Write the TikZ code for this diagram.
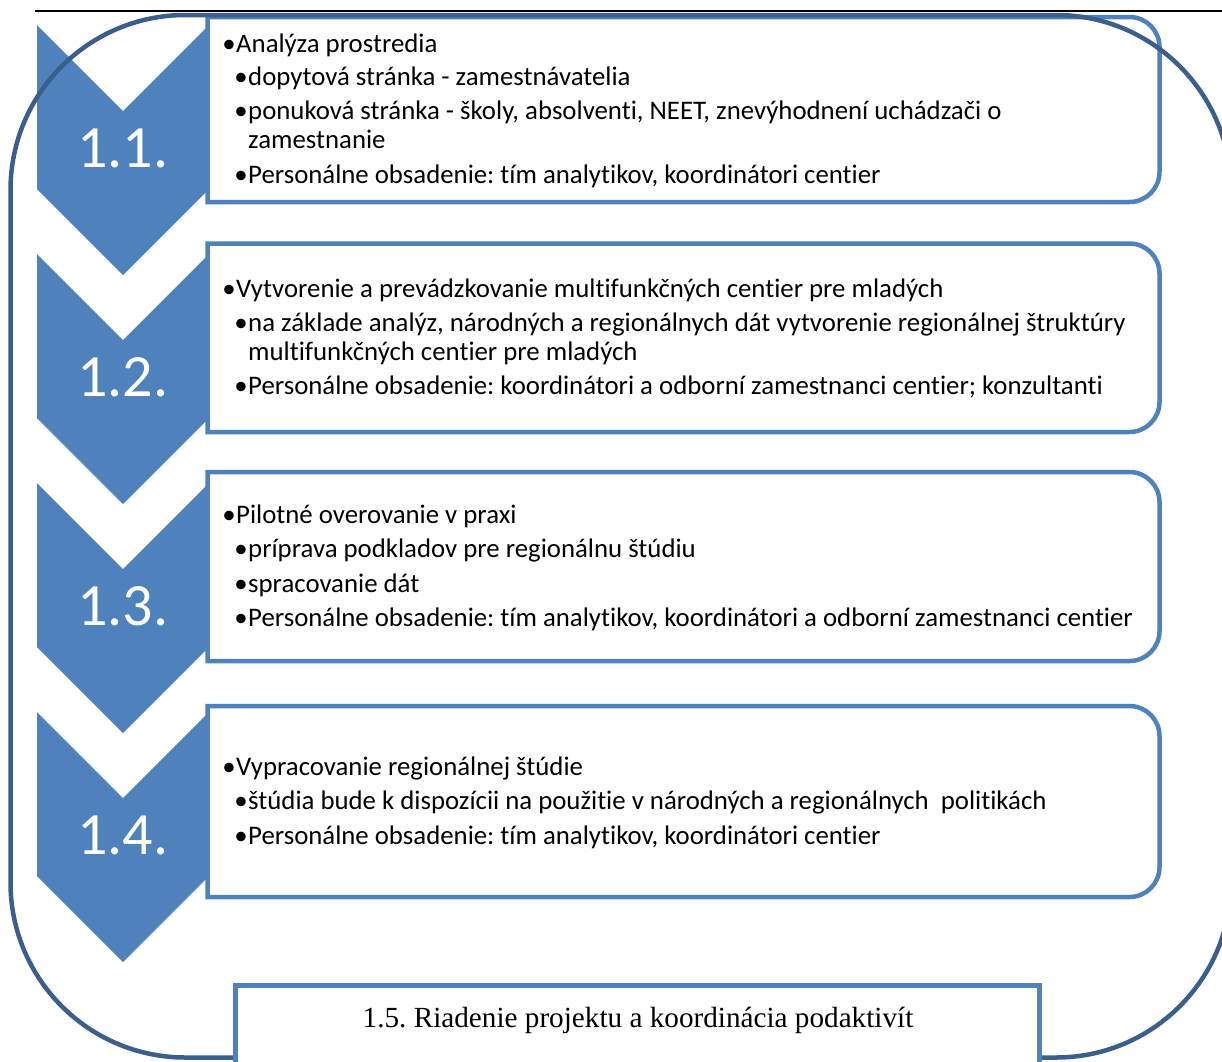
\documentclass[tikz,border=0pt]{standalone}
\usepackage{fontspec}
\setmainfont{Carlito}[Ligatures=NoCommon]
\newfontfamily\serifB{Liberation Serif}
\definecolor{chev}{RGB}{79,129,189}
\definecolor{frameblue}{RGB}{58,95,140}
\frenchspacing
\tikzset{
  chevshape/.style={fill=chev, draw=none},
  stepbox/.style={draw=chev, line width=4.5pt, fill=white},
  txt/.style={anchor=base west, inner sep=0pt, font=\fontsize{26.8}{30}\selectfont, text=black},
  numlab/.style={anchor=base, inner sep=0pt, font=\fontsize{60}{70}\selectfont, text=white},
  outerframe/.style={draw=frameblue, line width=4.5pt},
  mgmtbox/.style={draw=chev, line width=4.5pt, fill=white, outer sep=0pt, inner sep=0pt, anchor=north west},
  mgmttext/.style={anchor=base, inner sep=0pt, font=\serifB\fontsize{29.2}{33}\selectfont, text=black},
  topline/.style={draw=black, line width=2pt}
}
\newcommand\drawchev[1]{\fill[chevshape] (37,#1) -- (123,#1+86) -- (209,#1) -- (209,#1+164) -- (123,#1+250) -- (37,#1+164) -- cycle;}
\newcommand\drawbox[2]{\draw[stepbox] (207.5,#1) -- (1129.5,#1) .. controls (1146,#1) and (1159.5,#1+13.5) .. (1159.5,#1+30) -- (1159.5,#2-30) .. controls (1159.5,#2-13.5) and (1146,#2) .. (1129.5,#2) -- (207.5,#2) -- cycle;}
\newcommand\lineA[3]{\node[txt] (#1) at (236,#2) {\llap{•\hspace{0.5pt}}#3};}
\newcommand\lineB[3]{\node[txt] (#1) at (248,#2) {\llap{•\hspace{0.5pt}}#3};}
\newcommand\lineC[3]{\node[txt] (#1) at (248,#2) {#3};}
\begin{document}
\begin{tikzpicture}[x=1pt,y=-1pt]
\useasboundingbox (0,0) rectangle (1222,1061);
\clip (0,0) rectangle (1222,1061);
% chevrons
\drawchev{25}
\drawchev{254}
\drawchev{483}
\drawchev{712}
% boxes
\drawbox{17}{202}
\drawbox{243.5}{432}
\drawbox{472}{661}
\drawbox{706}{897}
% outer frame
\draw[outerframe] (185.5,15) -- (1056,15) .. controls (1152.6,15) and (1231,93.4) .. (1231,190) -- (1231,882.5) .. controls (1231,979.1) and (1152.6,1057.5) .. (1056,1057.5) -- (185.5,1057.5) .. controls (88.9,1057.5) and (10.5,979.1) .. (10.5,882.5) -- (10.5,190) .. controls (10.5,93.4) and (88.9,15) .. (185.5,15) -- cycle;
% management box
\node[mgmtbox, minimum width=804pt, minimum height=80pt] (mgmt) at (235.5,985.5) {};
\node[mgmttext] (mgmtlabel) at (638,1027) {1.5. Riadenie projektu a koordinácia podaktivít};
% top rule
\coordinate (tl) at (35,11);
\coordinate (tr) at (1222,11);
\draw[topline] (tl) -- (tr);
% numbers
\node[numlab] (n1) at (123,167) {1.1.};
\node[numlab] (n2) at (123,396) {1.2.};
\node[numlab] (n3) at (123,625) {1.3.};
\node[numlab] (n4) at (123,854) {1.4.};
% box 1
\lineA{a1}{52}{Analýza prostredia}
\lineB{a2}{85}{dopytová stránka - zamestnávatelia}
\lineB{a3}{119}{ponuková stránka - školy, absolventi, NEET, znevýhodnení uchádzači o}
\lineC{a4}{148}{zamestnanie}
\lineB{a5}{183}{Personálne obsadenie: tím analytikov, koordinátori centier}
% box 2
\lineA{b1}{297}{Vytvorenie a prevádzkovanie multifunkčných centier pre mladých}
\lineB{b2}{331}{na základe analýz, národných a regionálnych dát vytvorenie regionálnej štruktúry}
\lineC{b3}{360}{multifunkčných centier pre mladých}
\lineB{b4}{394}{Personálne obsadenie: koordinátori a odborní zamestnanci centier; konzultanti}
% box 3
\lineA{c1}{523}{Pilotné overovanie v praxi}
\lineB{c2}{557}{príprava podkladov pre regionálnu štúdiu}
\lineB{c3}{592}{spracovanie dát}
\lineB{c4}{626}{Personálne obsadenie: tím analytikov, koordinátori a odborní zamestnanci centier}
% box 4
\lineA{d1}{775}{Vypracovanie regionálnej štúdie}
\lineB{d2}{809}{štúdia bude k dispozícii na použitie v národných a regionálnych\ \ politikách}
\lineB{d3}{844}{Personálne obsadenie: tím analytikov, koordinátori centier}
\end{tikzpicture}
\end{document}
